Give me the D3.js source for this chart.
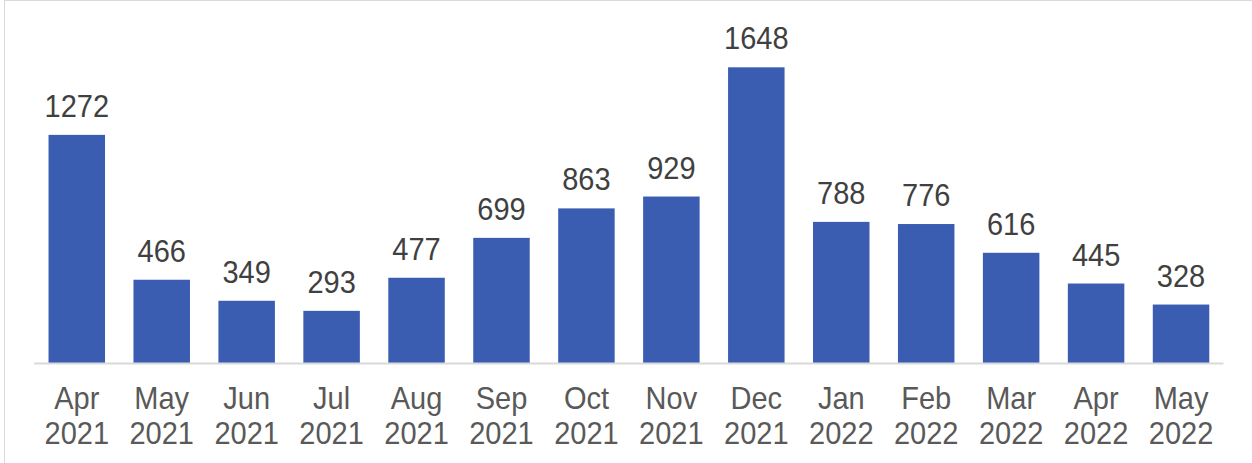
<!DOCTYPE html>
<html>
<head>
<meta charset="utf-8">
<script src="https://cdn.jsdelivr.net/npm/d3@7"></script>
<style>
  html, body { margin: 0; padding: 0; background: #ffffff; }
  svg { display: block; }
</style>
</head>
<body>
<svg id="chart" width="1252" height="463"></svg>
<script>
// Monthly counts, April 2021 to May 2022
const months = ["Apr", "May", "Jun", "Jul", "Aug", "Sep", "Oct", "Nov", "Dec", "Jan", "Feb", "Mar", "Apr", "May"];
const years  = ["2021", "2021", "2021", "2021", "2021", "2021", "2021", "2021", "2021", "2022", "2022", "2022", "2022", "2022"];
const values = [1272, 466, 349, 293, 477, 699, 863, 929, 1648, 788, 776, 616, 445, 328];

const W = 1252, H = 463;
const svg = d3.select("#chart");

// chart frame
svg.append("rect")
  .attr("x", 4.5).attr("y", 0.5)
  .attr("width", W + 10).attr("height", H + 10)
  .attr("fill", "none").attr("stroke", "#d9d9d9").attr("stroke-width", 1);

const keys = values.map((v, i) => i);
const x = d3.scaleBand()
  .domain(keys)
  .range([34.3, 1223.5])
  .paddingInner(0.335)
  .paddingOuter(0.1675);

const baseY = 363.5;
const y = d3.scaleLinear()
  .domain([0, 1648])
  .range([baseY, 67.3]);

const font = "'Liberation Sans', Arial, sans-serif";
const fontSize = 29;
const stretch = 1.06; // slightly tall lettering

// bars
svg.append("g").selectAll("rect")
  .data(values)
  .join("rect")
  .attr("x", (d, i) => x(i))
  .attr("y", d => y(d))
  .attr("width", x.bandwidth())
  .attr("height", d => baseY - y(d))
  .attr("fill", "#3a5cb1");

// baseline
svg.append("line")
  .attr("x1", 34.3).attr("x2", 1223.5)
  .attr("y1", baseY).attr("y2", baseY)
  .attr("stroke", "#d9d9d9").attr("stroke-width", 2);

// value labels
svg.append("g").selectAll("text")
  .data(values)
  .join("text")
  .attr("transform", (d, i) => `translate(${x(i) + x.bandwidth() / 2},${y(d) - 18}) scale(1,${stretch})`)
  .attr("text-anchor", "middle")
  .attr("font-family", font)
  .attr("font-size", fontSize)
  .attr("fill", "#404040")
  .text(d => d);

// category labels (month / year)
const cats = svg.append("g").selectAll("g")
  .data(keys)
  .join("g")
  .attr("font-family", font)
  .attr("font-size", fontSize)
  .attr("fill", "#595959")
  .attr("text-anchor", "middle");

cats.append("text")
  .attr("transform", i => `translate(${x(i) + x.bandwidth() / 2},409) scale(1,${stretch})`)
  .text(i => months[i]);
cats.append("text")
  .attr("transform", i => `translate(${x(i) + x.bandwidth() / 2},443.5) scale(1,${stretch})`)
  .text(i => years[i]);
</script>
</body>
</html>
